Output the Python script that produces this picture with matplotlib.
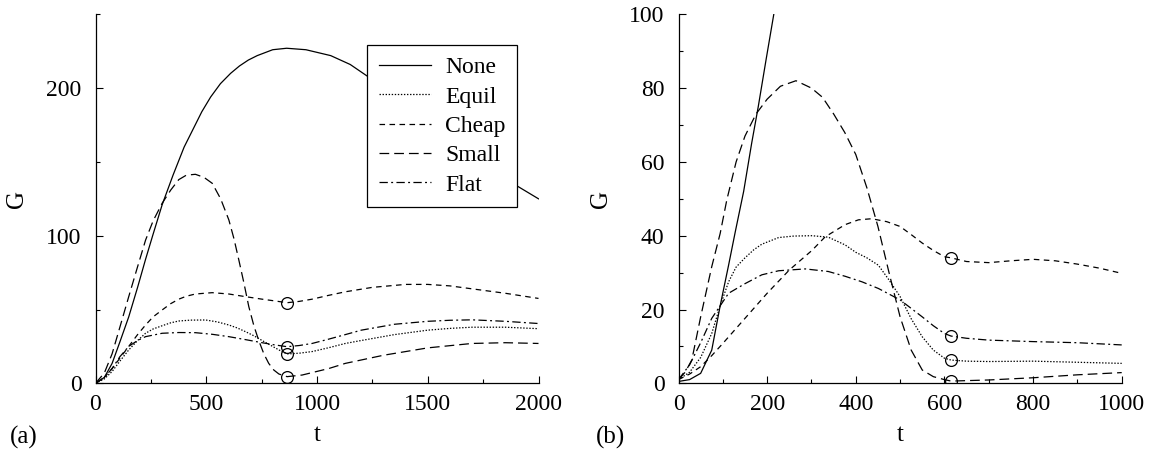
import numpy as np
import matplotlib
matplotlib.use("Agg")
from matplotlib import pyplot as plt
from matplotlib.ticker import MultipleLocator

plt.rcParams['font.family'] = ['Liberation Serif', 'DejaVu Serif']
plt.rcParams['lines.scale_dashes'] = False

labels = ["None", "Equil", "Cheap", "Small", "Flat"]

# panel (a): t in 0..2000
a_none_t = [0, 40, 75, 110, 150, 190, 226, 260, 301, 350, 400, 450, 480, 520, 564, 610, 650, 690, 730, 800, 863, 950, 1062, 1150, 1228, 1400, 1600, 1750, 1900, 2000]
a_none_g = [0, 4, 13.5, 28, 45, 65, 84, 101, 121, 141, 160, 175, 184, 194, 203, 210, 215, 219, 222, 226, 227, 226, 222, 216, 208, 189, 166, 150, 134, 125]

a_equil_t = [0, 40, 75, 110, 150, 190, 226, 260, 301, 340, 376, 430, 497, 550, 602, 640, 677, 715, 752, 790, 828, 865, 920, 978, 1050, 1128, 1200, 1350, 1500, 1600, 1700, 1850, 2000]
a_equil_g = [0, 3, 8, 15, 22.6, 29, 33.9, 36.8, 39, 41, 42.2, 42.8, 42.9, 41.6, 39.5, 37.5, 35, 32.2, 29, 25.8, 22.6, 19.9, 20.4, 21.5, 24, 27, 29, 33, 36, 37.2, 38, 38, 37]

a_cheap_t = [0, 40, 75, 110, 150, 190, 226, 260, 301, 340, 376, 410, 451, 527, 602, 677, 752, 810, 865, 920, 978, 1050, 1128, 1250, 1400, 1500, 1600, 1700, 1850, 2000]
a_cheap_g = [0, 4, 10, 17, 25, 33, 39.5, 45, 49.7, 54, 57, 59, 60.5, 61.4, 60.5, 58.7, 57, 55.8, 54.6, 55.5, 57, 59.5, 62, 65, 67, 67, 66, 64, 61, 57.5]

a_small_t = [0, 40, 75, 110, 150, 190, 226, 260, 301, 340, 376, 410, 451, 490, 527, 565, 602, 625, 647, 670, 692, 715, 737, 760, 782, 805, 828, 865, 933, 1053, 1128, 1300, 1500, 1700, 1850, 2000]
a_small_g = [0, 7, 20, 38, 58.7, 79, 97, 110, 122, 131, 138, 141, 141.6, 139.5, 135.5, 125, 110.7, 98, 83.6, 68, 52, 39, 29, 20, 13.5, 9, 6.3, 4.5, 5.6, 10, 13.5, 19, 24, 27, 27.5, 27]

a_flat_t = [0, 40, 75, 110, 150, 190, 226, 301, 376, 451, 527, 602, 677, 752, 810, 865, 920, 978, 1050, 1128, 1200, 1350, 1500, 1600, 1700, 1850, 2000]
a_flat_g = [0, 4, 10, 18, 25, 29, 31.6, 33.9, 34.4, 34.3, 33.2, 31.6, 29.6, 27.5, 26, 24.8, 25.6, 27, 29.8, 33, 36, 40, 42, 42.7, 43, 42, 40.5]

a_mark_t = 865
a_mark_g = [19.9, 54.6, 4.5, 24.8]  # Equil, Cheap, Small, Flat

# panel (b): t in 0..1000
b_none_t = [0, 25, 50, 75, 94, 113, 128, 147, 165, 180, 198, 215, 230]
b_none_g = [0.5, 1, 2.7, 9, 21, 32, 41, 52, 65, 75, 88, 100, 111]

b_equil_t = [0, 25, 50, 75, 94, 113, 130, 150, 170, 188, 226, 260, 301, 338, 376, 400, 425, 451, 475, 500, 525, 550, 575, 600, 615, 650, 700, 800, 900, 1000]
b_equil_g = [1, 3, 7, 13.5, 21, 27.5, 31.5, 34, 36.2, 37.7, 39.5, 39.9, 40, 39.6, 37.5, 35.5, 34, 32, 28, 23.5, 17.5, 12.6, 9, 6.8, 6.3, 6, 5.9, 6, 5.7, 5.4]

b_cheap_t = [0, 25, 50, 75, 100, 150, 200, 250, 301, 331, 376, 406, 436, 470, 500, 525, 550, 575, 600, 615, 650, 700, 750, 800, 850, 900, 950, 1000]
b_cheap_g = [1, 2.5, 4.5, 7.5, 10.8, 17.6, 24.4, 30.7, 36, 39.7, 43, 44.3, 44.6, 43.8, 42.5, 40.3, 38, 36, 34.3, 34, 33, 32.7, 33.2, 33.6, 33.2, 32.3, 31.2, 29.8]

b_small_t = [0, 15, 30, 50, 75, 94, 109, 130, 150, 175, 200, 230, 265, 300, 325, 350, 375, 400, 425, 450, 475, 500, 525, 550, 575, 600, 615, 700, 800, 900, 1000]
b_small_g = [1, 3, 6.3, 18, 31.6, 40.6, 49.7, 60, 67, 73, 77, 80.5, 82, 80, 77.5, 73, 68, 62, 53, 42.5, 30, 18, 9, 3.6, 1.8, 1, 0.6, 0.9, 1.5, 2.3, 2.9]

b_flat_t = [0, 25, 50, 75, 94, 113, 150, 188, 226, 286, 338, 376, 414, 451, 500, 550, 575, 600, 615, 650, 700, 800, 900, 1000]
b_flat_g = [1, 5, 11, 17.6, 21, 24.4, 27, 29.4, 30.5, 31, 30.3, 29, 27.5, 25.7, 22.6, 18, 15.6, 13.5, 12.8, 12.2, 11.7, 11.3, 11, 10.4]

b_mark_t = 615
b_mark_g = [6.3, 34, 0.6, 12.8]

styles = ['-', (0, (1.0, 1.2)), (0, (4.0, 3.2)), (0, (7.0, 3.6)), (0, (6.0, 2.4, 1.4, 2.4))]

fig = plt.figure(figsize=(11.52, 4.51), dpi=100)
ax1 = fig.add_axes([95.5 / 1152, 1 - 383.3 / 451, 443 / 1152, 369 / 451])
ax2 = fig.add_axes([678.5 / 1152, 1 - 383.3 / 451, 443.2 / 1152, 369 / 451])

panel_a = [(a_none_t, a_none_g), (a_equil_t, a_equil_g), (a_cheap_t, a_cheap_g),
           (a_small_t, a_small_g), (a_flat_t, a_flat_g)]
panel_b = [(b_none_t, b_none_g), (b_equil_t, b_equil_g), (b_cheap_t, b_cheap_g),
           (b_small_t, b_small_g), (b_flat_t, b_flat_g)]

for (t, g), ls, lab in zip(panel_a, styles, labels):
    ax1.plot(t, g, color='black', lw=0.9, linestyle=ls, label=lab)
for (t, g), ls in zip(panel_b, styles):
    ax2.plot(t, g, color='black', lw=0.9, linestyle=ls)

ax1.plot([a_mark_t] * 4, a_mark_g, 'o', mfc='none', mec='black', ms=8.5, mew=0.9)
ax2.plot([b_mark_t] * 4, b_mark_g, 'o', mfc='none', mec='black', ms=8.5, mew=0.9)

ax1.set_xlim(0, 2000)
ax1.set_ylim(0, 250)
ax1.xaxis.set_major_locator(MultipleLocator(500))
ax1.xaxis.set_minor_locator(MultipleLocator(250))
ax1.yaxis.set_major_locator(MultipleLocator(100))
ax1.yaxis.set_minor_locator(MultipleLocator(50))

ax2.set_xlim(0, 1000)
ax2.set_ylim(0, 100)
ax2.xaxis.set_major_locator(MultipleLocator(200))
ax2.xaxis.set_minor_locator(MultipleLocator(100))
ax2.yaxis.set_major_locator(MultipleLocator(20))
ax2.yaxis.set_minor_locator(MultipleLocator(10))

for ax, gx in [(ax1, -0.152), (ax2, -0.150)]:
    for s in ['top', 'right']:
        ax.spines[s].set_visible(False)
    ax.spines['left'].set_linewidth(0.9)
    ax.spines['bottom'].set_linewidth(0.9)
    ax.tick_params(which='both', direction='in', labelsize=17, width=0.8)
    ax.tick_params(which='major', length=5)
    ax.tick_params(which='minor', length=3)
    ax.tick_params(axis='y', pad=10)
    ax.tick_params(axis='x', pad=8)
    ax.set_xlabel('t', fontsize=18)
    ax.set_ylabel('G', fontsize=18)
    ax.yaxis.set_label_coords(gx, 0.5)
    ax.xaxis.set_label_coords(0.5, -0.11)

leg = ax1.legend(loc='upper left', bbox_to_anchor=(0.613, 0.917), fontsize=17,
                 frameon=True, fancybox=False, edgecolor='black', framealpha=1,
                 handlelength=2.2, handletextpad=0.6, labelspacing=0.33,
                 borderpad=0.5, borderaxespad=0)
leg.get_frame().set_linewidth(0.9)

fig.text(0.009, 0.031, '(a)', fontsize=18, va='center', ha='left')
fig.text(0.517, 0.031, '(b)', fontsize=18, va='center', ha='left')

fig.savefig('out.png', dpi=100)
